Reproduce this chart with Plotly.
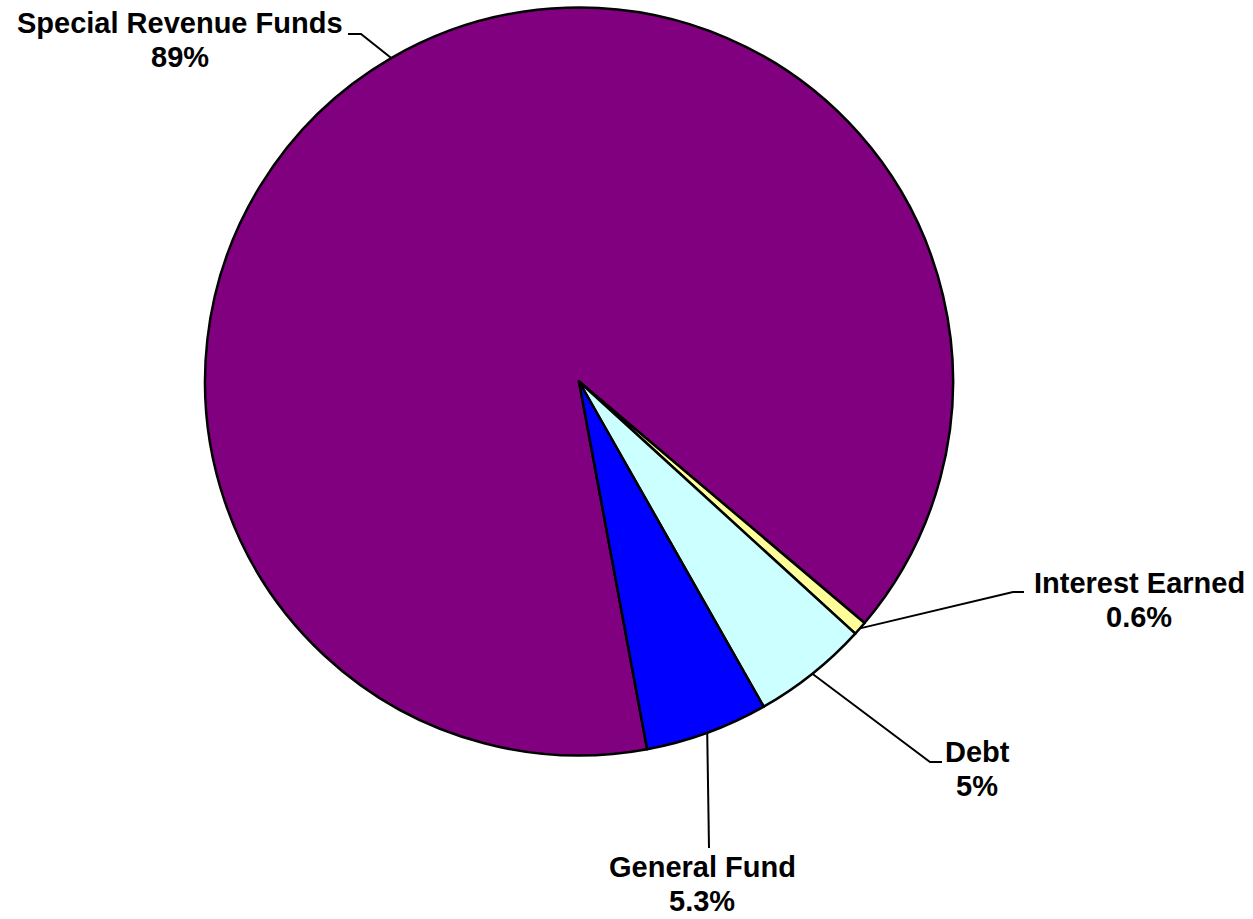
import math
import plotly.graph_objects as go

# Fund sources, in clockwise order starting from the bottom of the pie
labels = ["Special Revenue Funds", "Interest Earned", "Debt", "General Fund"]
values = [89, 0.6, 5, 5.3]
pct_text = ["89%", "0.6%", "5%", "5.3%"]
colors = ["#800080", "#FFFF99", "#CCFFFF", "#0000FF"]

W, H = 1253, 919
CX, CY, R = 579, 381.5, 374          # pie centre and radius in pixels
START = 169.5                        # angle (deg, clockwise from 12 o'clock) of first slice
FONT_SIZE = 29


def px(x):
    return x / W


def py(y):
    return 1 - y / H


# callout layout: elbow point, line end, text centre x, baseline of first line
callouts = [
    dict(elbow=(361, 34), end=(348, 34), tx=180, base=33),
    dict(elbow=(1013, 592), end=(1024, 592), tx=1139, base=593),
    dict(elbow=(930, 762), end=(942, 762), tx=977, base=762),
    dict(elbow=(709, 848), end=(709, 848), tx=702, base=877),
]
LINE_GAP = 34

fig = go.Figure(
    go.Pie(
        labels=labels,
        values=values,
        sort=False,
        direction="clockwise",
        rotation=START,
        marker=dict(colors=colors, line=dict(color="black", width=2.5)),
        textinfo="none",
        hoverinfo="label+percent",
        showlegend=False,
        domain=dict(
            x=[px(CX - R), px(CX + R)],
            y=[py(CY + R), py(CY - R)],
        ),
    )
)

total = sum(values)
angle = START
shapes = []
annotations = []
font = dict(family="Liberation Sans, Arial, sans-serif", size=FONT_SIZE, color="black", weight="bold")
for lab, val, pct, co in zip(labels, values, pct_text, callouts):
    span = val / total * 360
    mid = math.radians(angle + span / 2)
    angle += span
    ax = CX + R * math.sin(mid)
    ay = CY - R * math.cos(mid)
    (ex, ey), (fx, fy) = co["elbow"], co["end"]
    path = f"M {px(ax)} {py(ay)} L {px(ex)} {py(ey)} L {px(fx)} {py(fy)}"
    shapes.append(dict(type="path", xref="paper", yref="paper", path=path,
                       line=dict(color="black", width=2)))
    off = 0.3465 * FONT_SIZE
    for k, txt in enumerate([lab, pct]):
        annotations.append(dict(
            text=txt, xref="paper", yref="paper",
            x=px(co["tx"]), y=py(co["base"] + k * LINE_GAP - off),
            xanchor="center", yanchor="middle", showarrow=False,
            font=font, borderpad=0,
        ))

fig.update_layout(
    width=W, height=H,
    margin=dict(l=0, r=0, t=0, b=0),
    paper_bgcolor="white",
    plot_bgcolor="white",
    shapes=shapes,
    annotations=annotations,
)

fig.write_html("out.html")
